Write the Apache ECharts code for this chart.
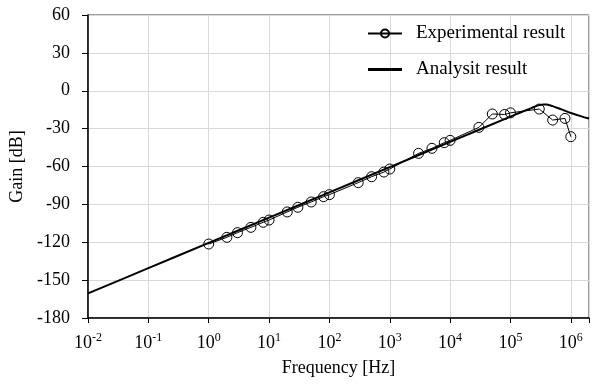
<!DOCTYPE html>
<html>
<head>
<meta charset="utf-8">
<script src="https://cdn.jsdelivr.net/npm/echarts@6/dist/echarts.min.js"></script>
<style>
  html, body { margin: 0; padding: 0; background: #fff; }
  #chart { width: 592px; height: 386px; }
</style>
</head>
<body>
<div id="chart"></div>
<script>
// Measured frequency response (Hz, dB)
const expFreq = [1, 2, 3, 5, 8, 10, 20, 30, 50, 80, 100, 300, 500, 800, 1000,
                 3000, 5000, 8000, 10000, 30000, 50000, 80000, 100000,
                 300000, 500000, 800000, 1000000];
const expGain = [-121.4, -116.1, -112.4, -108.2, -104.2, -102.4, -96.0, -92.3, -88.1, -83.9, -82.3,
                 -72.8, -68.1, -64.4, -62.0,
                 -49.6, -45.6, -41.1, -39.3, -29.0, -18.4, -18.8, -17.5,
                 -14.5, -23.2, -21.9, -36.4];

// Analytical response (Hz, dB)
const anaFreq = [0.01, 0.1, 1, 10, 100, 1000, 10000, 100000, 150000, 200000, 250000,
                 300000, 350000, 400000, 500000, 700000, 1000000, 1500000, 2000000];
const anaGain = [-160.5, -140.5, -120.5, -100.5, -80.5, -60.5, -40.5, -20.5, -17.0, -14.6, -12.7,
                 -11.4, -10.8, -10.9, -12.2, -14.8, -17.6, -20.3, -22.0];

const yTicks = { min: -180, max: 60, step: 30 };
const xRange = { min: 0.01, max: 2000000 };

const serif = '"Liberation Serif", "Times New Roman", serif';

const chart = echarts.init(document.getElementById('chart'), null, { renderer: 'canvas' });

chart.setOption({
  animation: false,
  backgroundColor: '#ffffff',
  grid: {
    left: 88, top: 15, width: 506, height: 303,
    show: true, borderColor: '#3a3a3a', borderWidth: 1, backgroundColor: 'transparent'
  },
  legend: {
    orient: 'vertical',
    left: 362, top: 19,
    itemWidth: 34, itemHeight: 10, itemGap: 17,
    textStyle: { fontFamily: serif, fontSize: 19, color: '#000', padding: [0, 0, 0, 9], lineHeight: 17 },
    data: [
      { name: 'Experimental result' },
      { name: 'Analysit result', icon: 'path://M0,0 L34,0 L34,3 L0,3 Z', itemStyle: { color: '#000' } }
    ]
  },
  xAxis: {
    type: 'log',
    logBase: 10,
    min: xRange.min, max: xRange.max,
    name: 'Frequency [Hz]',
    nameLocation: 'middle', nameGap: 35,
    nameTextStyle: { fontFamily: serif, fontSize: 18, color: '#000' },
    axisLine: { show: true, onZero: false, lineStyle: { color: '#000', width: 1.5 } },
    axisTick: { show: true, inside: false, length: 5, lineStyle: { color: '#000' } },
    splitLine: { show: true, lineStyle: { color: '#d9d9d9', width: 1 } },
    minorTick: { show: false },
    axisLabel: {
      margin: 14,
      color: '#000',
      fontFamily: serif,
      fontSize: 18,
      formatter: function (v) {
        const e = Math.log10(v);
        const r = Math.round(e);
        if (Math.abs(e - r) > 1e-6) return '';
        return '{b|10}{s|' + r + '}';
      },
      rich: {
        b: { fontFamily: serif, fontSize: 18, color: '#000', lineHeight: 20, verticalAlign: 'bottom' },
        s: { fontFamily: serif, fontSize: 12, color: '#000', lineHeight: 20, verticalAlign: 'top', padding: [0, 0, 10, 0] }
      }
    }
  },
  yAxis: {
    type: 'value',
    min: yTicks.min, max: yTicks.max, interval: yTicks.step,
    name: 'Gain [dB]',
    nameLocation: 'middle', nameGap: 59, nameRotate: 90,
    nameTextStyle: { fontFamily: serif, fontSize: 18, color: '#000' },
    axisLine: { show: true, lineStyle: { color: '#000', width: 1.5 } },
    axisTick: { show: true, inside: false, length: 6, lineStyle: { color: '#000' } },
    splitLine: { show: true, lineStyle: { color: '#d9d9d9', width: 1 } },
    axisLabel: { margin: 18, color: '#000', fontFamily: serif, fontSize: 18 }
  },
  series: [
    {
      name: 'Experimental result',
      type: 'line',
      data: expFreq.map((f, i) => [f, expGain[i]]),
      symbol: 'circle',
      symbolSize: 10,
      showAllSymbol: true,
      lineStyle: { color: '#000', width: 1 },
      itemStyle: { color: 'rgba(0,0,0,0)', borderColor: '#000', borderWidth: 1 },
      z: 3
    },
    {
      name: 'Analysit result',
      type: 'line',
      data: anaFreq.map((f, i) => [f, anaGain[i]]),
      smooth: 0.3,
      symbol: 'none',
      lineStyle: { color: '#000', width: 2 },
      itemStyle: { color: '#000' },
      z: 2
    }
  ]
});
</script>
</body>
</html>
